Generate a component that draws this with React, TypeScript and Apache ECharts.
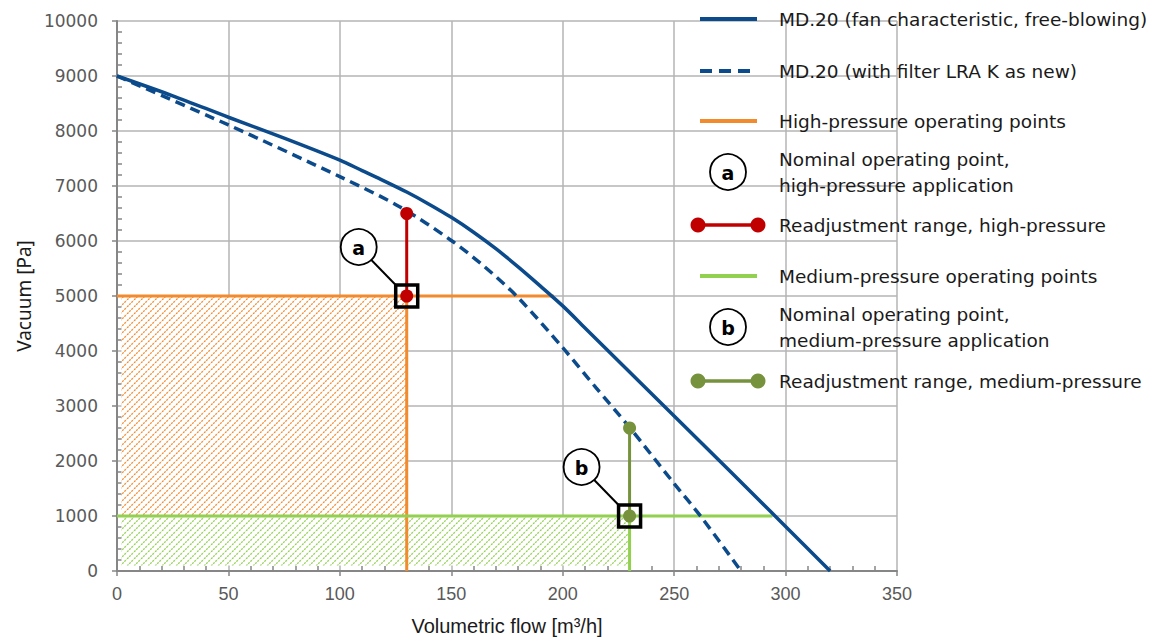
import React, { useEffect, useRef } from "react";
import * as echarts from "echarts";

// ---- data ----
const xRange = [0, 350];
const xStep = 50;
const yRange = [0, 10000];
const yStep = 1000;

const freeBlowing: number[][] = [
  [0, 9000], [25, 8640], [50, 8250], [75, 7870], [100, 7470], [110, 7280],
  [120, 7090], [130, 6890], [140, 6670], [150, 6430], [160, 6160], [170, 5860],
  [180, 5530], [190, 5180], [200, 4820], [210, 4420], [220, 4020], [250, 2820],
  [275, 1820], [300, 810], [320, 0],
];
const withFilter: number[][] = [
  [0, 9000], [50, 8110], [100, 7170], [127, 6620], [150, 6010], [165, 5530],
  [180, 4970], [200, 4060], [215, 3330], [230, 2610], [250, 1590], [262, 990], [280, 0],
];
const highPressureH: number[][] = [[0, 5000], [196, 5000]];
const highPressureV: number[][] = [[130, 0], [130, 5000]];
const mediumPressureH: number[][] = [[0, 1000], [294, 1000]];
const mediumPressureV: number[][] = [[230, 0], [230, 1000]];
const readjustHigh: number[][] = [[130, 5000], [130, 6500]];
const readjustMedium: number[][] = [[230, 1000], [230, 2600]];
const hatchHigh = [[2, 1000], [130, 5000]];
const hatchMedium = [[2, 100], [230, 1000]];
const nominalPoints = [
  { label: "a", x: 130, y: 5000 },
  { label: "b", x: 230, y: 1000 },
];

const legendItems = [
  { kind: "solid", color: "#0b4a8b", text: "MD.20 (fan characteristic, free-blowing)" },
  { kind: "dashed", color: "#0b4a8b", text: "MD.20 (with filter LRA K as new)" },
  { kind: "solid", color: "#f28a2e", text: "High-pressure operating points" },
  { kind: "badge", label: "a", text: "Nominal operating point,\nhigh-pressure application" },
  { kind: "dots", color: "#c00000", text: "Readjustment range, high-pressure" },
  { kind: "solid", color: "#92d050", text: "Medium-pressure operating points" },
  { kind: "badge", label: "b", text: "Nominal operating point,\nmedium-pressure application" },
  { kind: "dots", color: "#76923c", text: "Readjustment range, medium-pressure" },
];
const legendY = [19, 71, 121, 172, 225, 276, 327, 381];

const NAVY = "#0b4a8b";
const ORANGE = "#f28a2e";
const LGREEN = "#92d050";
const RED = "#c00000";
const DGREEN = "#76923c";
const AXIS = "#868686";
const GRID = "#b5b5b5";

function hatch(color: string) {
  const s = 7;
  const c = document.createElement("canvas");
  c.width = s;
  c.height = s;
  const g = c.getContext("2d")!;
  g.fillStyle = "#ffffff";
  g.fillRect(0, 0, s, s);
  g.strokeStyle = color;
  g.lineWidth = 1.3;
  g.setLineDash([2, 1]);
  g.beginPath();
  g.moveTo(-1, s + 1);
  g.lineTo(s + 1, -1);
  g.moveTo(-2, 2);
  g.lineTo(2, -2);
  g.moveTo(s - 2, s + 2);
  g.lineTo(s + 2, s - 2);
  g.stroke();
  return { image: c, repeat: "repeat", imageWidth: s, imageHeight: s };
}

export default function App() {
  const ref = useRef<HTMLDivElement>(null);
  useEffect(() => {
    const chart = echarts.init(ref.current!, null, { renderer: "svg" });
    const lineSeries = (data: number[][], color: string, width: number, z = 3, extra: any = {}) => ({
      type: "line",
      data,
      showSymbol: false,
      symbol: "none",
      silent: true,
      z,
      lineStyle: { color, width },
      itemStyle: { color },
      ...extra,
    });
    const plain = (v: number) => String(v);
    const option: any = {
      animation: false,
      grid: { left: 117, top: 21, right: 263, bottom: 66, outerBoundsMode: "none", containLabel: false },
      xAxis: [
        {
          type: "value", min: xRange[0], max: xRange[1], interval: xStep,
          name: "Volumetric flow [m³/h]", nameLocation: "middle", nameGap: 45,
          nameTextStyle: { fontFamily: "Liberation Sans", fontSize: 20, color: "#1a1a1a" },
          axisLine: { show: true, onZero: false, lineStyle: { color: AXIS, width: 2 } },
          axisTick: { show: true, length: 5, lineStyle: { color: AXIS, width: 1.5 } },
          axisLabel: { color: "#595959", fontFamily: "Liberation Sans", fontSize: 18, margin: 14, formatter: plain },
          splitLine: { show: true, lineStyle: { color: GRID, width: 1.5 } },
        },
        {
          type: "value", min: xRange[0], max: xRange[1], interval: xStep, position: "bottom",
          axisLine: { show: false }, axisLabel: { show: false }, splitLine: { show: false },
          axisTick: { show: false, inside: true },
          minorTick: { show: true, splitNumber: 5, length: 5, lineStyle: { color: AXIS, width: 1.5 } },
        },
      ],
      yAxis: [
        {
          type: "value", min: yRange[0], max: yRange[1], interval: yStep,
          name: "Vacuum [Pa]", nameLocation: "middle", nameGap: 84,
          nameTextStyle: { fontFamily: "Noto Sans", fontSize: 19, color: "#1a1a1a" },
          axisLine: { show: true, onZero: false, lineStyle: { color: AXIS, width: 2 } },
          axisTick: { show: true, length: 5, lineStyle: { color: AXIS, width: 1.5 } },
          axisLabel: { color: "#595959", fontFamily: "DejaVu Sans", fontSize: 17, margin: 19, formatter: plain },
          splitLine: { show: true, lineStyle: { color: GRID, width: 1.5 } },
        },
        {
          type: "value", min: yRange[0], max: yRange[1], interval: yStep, position: "left",
          axisLine: { show: false }, axisLabel: { show: false }, splitLine: { show: false },
          axisTick: { show: false, inside: true },
          minorTick: { show: true, splitNumber: 5, length: 5, lineStyle: { color: AXIS, width: 1.5 } },
        },
      ],
      series: [
        lineSeries(highPressureH, ORANGE, 3),
        lineSeries(highPressureV, ORANGE, 3, 3, {
          markArea: {
            silent: true,
            data: [
              [{ coord: hatchHigh[0], itemStyle: { color: hatch(ORANGE) } }, { coord: hatchHigh[1] }],
              [{ coord: hatchMedium[0], itemStyle: { color: hatch(LGREEN) } }, { coord: hatchMedium[1] }],
            ],
          },
        }),
        lineSeries(mediumPressureH, LGREEN, 3),
        lineSeries(mediumPressureV, LGREEN, 3),
        lineSeries(freeBlowing, NAVY, 3.5, 5, { smooth: 0.3 }),
        lineSeries(withFilter, NAVY, 3.5, 5, {
          smooth: 0.3,
          lineStyle: { color: NAVY, width: 3.5, type: [10, 6] },
        }),
        lineSeries(readjustHigh, RED, 3, 6, { showSymbol: true, symbol: "circle", symbolSize: 13 }),
        lineSeries(readjustMedium, DGREEN, 3, 6, { showSymbol: true, symbol: "circle", symbolSize: 13 }),
      ],
    };
    chart.setOption(option);

    const graphics: any[] = [];
    const badge = (cx: number, cy: number, label: string) => [
      { type: "circle", shape: { cx, cy, r: 18 }, style: { fill: "#fff", stroke: "#000", lineWidth: 1.8 }, z: 100 },
      {
        type: "text", x: cx, y: cy + 1, z: 101,
        style: { text: label, fontFamily: "DejaVu Sans", fontWeight: "bold", fontSize: 19, fill: "#000", align: "center", verticalAlign: "middle" },
      },
    ];
    nominalPoints.forEach((p) => {
      const [bx, by] = chart.convertToPixel({ gridIndex: 0 } as any, [p.x, p.y]) as number[];
      const cx = bx - 48;
      const cy = by - 49;
      graphics.push({ type: "line", z: 99, shape: { x1: cx, y1: cy, x2: bx - 11, y2: by - 11 }, style: { stroke: "#000", lineWidth: 2 } });
      graphics.push(...badge(cx, cy, p.label));
      graphics.push({ type: "rect", z: 99, shape: { x: bx - 11, y: by - 11, width: 22, height: 22 }, style: { fill: "none", stroke: "#000", lineWidth: 3.5 } });
    });

    legendItems.forEach((it, i) => {
      const y = legendY[i];
      if (it.kind === "solid" || it.kind === "dashed") {
        graphics.push({
          type: "line", shape: { x1: 700, y1: y, x2: 757, y2: y },
          style: { stroke: it.color, lineWidth: 4, lineDash: it.kind === "dashed" ? [12, 7] : null },
        });
      } else if (it.kind === "dots") {
        graphics.push({ type: "line", shape: { x1: 698, y1: y, x2: 758, y2: y }, style: { stroke: it.color, lineWidth: 3.5 } });
        graphics.push({ type: "circle", shape: { cx: 698, cy: y, r: 7.5 }, style: { fill: it.color } });
        graphics.push({ type: "circle", shape: { cx: 758, cy: y, r: 7.5 }, style: { fill: it.color } });
      } else {
        graphics.push(...badge(728, y, (it as any).label));
      }
      graphics.push({
        type: "text", x: 779, y: y,
        style: {
          text: it.text, fontFamily: "DejaVu Sans", fontSize: 18.5, fill: "#1a1a1a",
          verticalAlign: "middle", lineHeight: 26,
        },
      });
    });
    chart.setOption({ graphic: { elements: graphics } });

    return () => chart.dispose();
  }, []);
  return <div ref={ref} style={{ width: 1160, height: 637, position: "absolute", left: 0, top: 0 }} />;
}
